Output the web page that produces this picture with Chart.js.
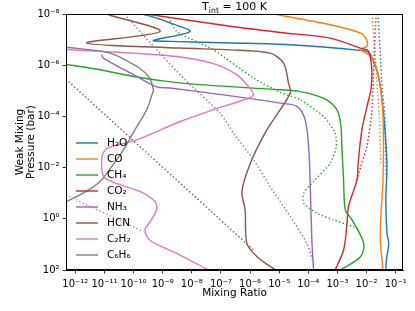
<!DOCTYPE html>
<html>
<head>
<meta charset="utf-8">
<script src="https://cdn.jsdelivr.net/npm/chart.js@4.4.0/dist/chart.umd.min.js"></script>
<style>
  html, body { margin: 0; padding: 0; background: #fff; }
  canvas { display: block; }
</style>
</head>
<body>
<canvas id="profileChart" width="415" height="311"></canvas>
<script>
// All values are log10 — mixing ratio (x) and pressure in bar (y)

// solid lines
const h2oLogP   = [-8.0, -7.80, -7.65, -7.32, -6.97, -6.93, -6.87, -6.80, -6.58, -6.50, -6.15, -5.56, -4.65, -3.35, -2.04, -0.74, 0.57, 0.96, 1.61, 2.0];
const h2oLogMix = [-9.70, -9.09, -8.75, -8.06, -9.32, -8.75, -6.57, -4.62, -2.22, -1.93, -1.76, -1.59, -1.47, -1.36, -1.30, -1.34, -1.30, -1.24, -1.32, -1.34];

const coLogP   = [-8.0, -7.58, -7.26, -6.97, -6.74, -6.61, -6.37, -5.82, -4.65, -3.08, -1.39, -0.09, 0.83, 1.61, 2.0];
const coLogMix = [-5.20, -3.25, -2.22, -1.99, -1.99, -2.22, -1.88, -1.65, -1.47, -1.42, -1.44, -1.51, -1.53, -1.47, -1.44];

const ch4LogP   = [-6.06, -5.82, -5.56, -5.37, -5.24, -5.04, -4.97, -4.71, -4.26, -3.61, -2.82, -1.52, -0.35, 0.04, 0.96, 1.48, 2.0];
const ch4LogMix = [-12.5, -11.15, -10.01, -8.86, -7.72, -4.97, -4.28, -3.48, -3.02, -2.88, -2.85, -2.79, -2.73, -2.50, -2.10, -2.21, -2.90];

const co2LogP   = [-8.0, -7.52, -7.28, -7.06, -6.67, -6.54, -5.82, -5.04, -4.65, -3.48, -2.17, -1.52, -0.48, 0.30, 1.22, 2.0];
const co2LogMix = [-9.55, -6.68, -4.97, -3.25, -2.22, -1.93, -1.82, -1.85, -1.93, -2.16, -2.29, -2.33, -2.62, -2.68, -2.79, -3.08];

const nh3LogP   = [-6.41, -6.28, -5.56, -5.15, -5.11, -4.84, -4.52, -4.39, -3.87, -2.82, -1.52, 0.83, 2.0];
const nh3LogMix = [-11.10, -11.04, -9.89, -9.21, -8.75, -6.91, -4.97, -4.39, -4.11, -3.99, -3.94, -3.88, -3.82];

const hcnLogP   = [-7.97, -7.32, -6.87, -6.67, -6.60, -6.47, -6.08, -5.30, -4.91, -3.48, -2.17, -1.06, -0.35, 0.96, 1.48, 2.0];
const hcnLogMix = [-10.86, -9.09, -11.61, -8.41, -6.68, -5.31, -4.85, -4.68, -4.62, -5.42, -5.99, -6.28, -6.17, -6.11, -5.76, -5.13];

const c2h2LogP   = [-6.62, -6.47, -6.32, -6.06, -5.63, -5.17, -4.87, -4.71, -4.26, -3.80, -3.08, -2.80, -2.59, -2.17, -1.68, -1.45, -1.06, -0.67, -0.35, 0.11, 0.44, 0.85, 1.35, 2.0];
const c2h2LogMix = [-12.4, -10.01, -8.40, -7.26, -6.46, -6.06, -5.88, -6.06, -7.26, -8.40, -9.89, -10.81, -11.04, -11.10, -11.04, -10.75, -9.77, -9.26, -9.21, -9.43, -9.61, -9.43, -8.52, -7.43];

const c6h6LogP   = [-6.72, -6.47, -5.95, -5.56, -5.04, -4.84, -4.26, -3.48, -2.69, -2.04, -1.46, -1.00, -0.67, -0.63];
const c6h6LogMix = [-12.45, -10.81, -9.89, -9.49, -9.32, -9.37, -9.55, -9.95, -10.35, -10.75, -11.15, -11.73, -12.32, -12.47];

// dotted lines
const h2oDotLogP   = [-8.0, -6.47, -5.04, -4.13, -1.52];
const h2oDotLogMix = [-1.61, -1.53, -1.46, -1.38, -1.32];
const coDotLogP    = [-8.0, -6.47, -5.04, -4.13, -2.17];
const coDotLogMix  = [-1.82, -1.71, -1.63, -1.57, -1.51];
const ch4DotLogP   = [-8.0, -7.32, -6.60, -5.50, -4.94, -4.65, -4.00, -3.35, -2.82, -2.17, -1.46, -1.00, -0.61, -0.22, 0.04, 0.31, 0.44];
const ch4DotLogMix = [-8.86, -8.52, -7.26, -5.88, -4.97, -4.28, -3.48, -3.08, -3.04, -3.25, -3.82, -4.16, -4.16, -3.71, -3.14, -2.45, -2.22];
const co2DotLogP   = [-8.0, -6.47, -5.04, -4.13, -2.82, -2.04, -1.52];
const co2DotLogMix = [-1.67, -1.74, -1.78, -1.82, -1.99, -2.20, -2.33];
const nh3DotLogP   = [-8.0, -6.74, -5.43, -4.13, -3.35, -2.30, -1.26, -0.09, 0.96, 1.74];
const nh3DotLogMix = [-10.32, -9.32, -8.23, -7.03, -6.57, -5.88, -5.31, -4.62, -4.05, -3.82];
const hcnDotLogP   = [-5.45, 1.25];
const hcnDotLogMix = [-12.32, -5.85];
const c2h2DotLogP   = [-0.93, 0.50];
const c2h2DotLogMix = [-12.32, -9.66];
const c6h6DotLogP   = [-8.0, 2.0];
const c6h6DotLogMix = [-0.76, -0.76];

const speciesNames  = ["H₂O", "CO", "CH₄", "CO₂", "NH₃", "HCN", "C₂H₂", "C₆H₆"];
const speciesColors = ["#1f77b4", "#ff7f0e", "#2ca02c", "#d62728", "#9467bd", "#8c564b", "#e377c2", "#7f7f7f"];

const xTickExps = [-12, -11, -10, -9, -8, -7, -6, -5, -4, -3, -2, -1];
const yTickExps = [-8, -6, -4, -2, 0, 2];

const FONT = '"DejaVu Sans", "Liberation Sans", sans-serif';

function toPoints(logMix, logP) {
  return logMix.map((m, i) => ({ x: Math.pow(10, m), y: Math.pow(10, logP[i]) }));
}

function lineSet(label, color, logMix, logP, dotted) {
  return {
    label: label,
    data: toPoints(logMix, logP),
    borderColor: color,
    borderWidth: 1.4,
    borderDash: dotted ? [1.4, 2.3] : [],
    pointRadius: 0,
    showLine: true,
    fill: false,
    tension: dotted ? 0.2 : 0.3
  };
}

const solidSets = [
  [h2oLogMix, h2oLogP], [coLogMix, coLogP], [ch4LogMix, ch4LogP], [co2LogMix, co2LogP],
  [nh3LogMix, nh3LogP], [hcnLogMix, hcnLogP], [c2h2LogMix, c2h2LogP], [c6h6LogMix, c6h6LogP]
];
const dottedSets = [
  [h2oDotLogMix, h2oDotLogP], [coDotLogMix, coDotLogP], [ch4DotLogMix, ch4DotLogP], [co2DotLogMix, co2DotLogP],
  [nh3DotLogMix, nh3DotLogP], [hcnDotLogMix, hcnDotLogP], [c2h2DotLogMix, c2h2DotLogP], [c6h6DotLogMix, c6h6DotLogP]
];

const datasets = [];
solidSets.forEach((s, i) => datasets.push(lineSet(speciesNames[i], speciesColors[i], s[0], s[1], false)));
dottedSets.forEach((s, i) => datasets.push(lineSet(speciesNames[i] + " (dotted)", speciesColors[i], s[0], s[1], true)));
// Chart.js paints the first dataset last, so flip to keep matplotlib-like stacking
datasets.reverse();

const supMap = { "-": "⁻", "0": "⁰", "1": "¹", "2": "²", "3": "³", "4": "⁴", "5": "⁵", "6": "⁶", "7": "⁷", "8": "⁸", "9": "⁹" };
function powLabel(v) {
  const e = Math.round(Math.log10(v));
  return "10" + String(e).split("").map(ch => supMap[ch]).join("");
}

// frame, title and legend drawn by hand
const framePlugin = {
  id: "frame",
  afterDraw(chart) {
    const { ctx, chartArea: a } = chart;
    ctx.save();
    ctx.strokeStyle = "#000";
    ctx.lineWidth = 1;
    ctx.strokeRect(Math.round(a.left) + 0.5, Math.round(a.top) + 0.5, Math.round(a.right - a.left) - 1, Math.round(a.bottom - a.top) - 1);

    // title: T_int = 100 K
    ctx.fillStyle = "#000";
    ctx.textBaseline = "alphabetic";
    const big = "11px " + FONT, small = "7.8px " + FONT;
    ctx.font = big; const wT = ctx.measureText("T").width;
    ctx.font = small; const wSub = ctx.measureText("int").width;
    ctx.font = big; const wRest = ctx.measureText(" = 100 K").width;
    let x = (a.left + a.right) / 2 - (wT + wSub + wRest) / 2;
    const base = 10;
    ctx.font = big; ctx.fillText("T", x, base); x += wT;
    ctx.font = small; ctx.fillText("int", x, base + 2.5); x += wSub;
    ctx.font = big; ctx.fillText(" = 100 K", x, base);

    // legend
    ctx.font = "10.5px " + FONT;
    ctx.textBaseline = "middle";
    speciesNames.forEach((name, i) => {
      const y = a.top + 129 + i * 16;
      ctx.strokeStyle = speciesColors[i];
      ctx.lineWidth = 1.4;
      ctx.beginPath();
      ctx.moveTo(a.left + 10, y);
      ctx.lineTo(a.left + 32, y);
      ctx.stroke();
      ctx.fillStyle = "#000";
      ctx.fillText(name, a.left + 41, y);
    });
    ctx.restore();
  }
};

const axisCommon = {
  type: "logarithmic",
  grid: { display: true, drawOnChartArea: false, drawTicks: true, tickLength: 3.5, color: "#000", lineWidth: 0.8 },
  border: { display: true, color: "#000", width: 1 },
  ticks: { color: "#000", font: { family: FONT, size: 10 }, padding: 3, callback: v => powLabel(v), autoSkip: false, maxRotation: 0 }
};

new Chart(document.getElementById("profileChart"), {
  type: "scatter",
  data: { datasets: datasets },
  options: {
    responsive: false,
    animation: false,
    layout: { padding: { top: 14, right: 12, bottom: 0, left: 0 } },
    plugins: { legend: { display: false }, tooltip: { enabled: false } },
    scales: {
      x: Object.assign({}, axisCommon, {
        min: Math.pow(10, -12.32),
        max: Math.pow(10, -0.75),
        ticks: Object.assign({}, axisCommon.ticks, { padding: 4.5 }),
        afterBuildTicks: s => { s.ticks = xTickExps.map(e => ({ value: Math.pow(10, e) })); },
        afterFit: s => { s.height = 41; },
        title: { display: true, text: "Mixing Ratio", color: "#000", font: { family: FONT, size: 10.5 }, padding: { top: 0, bottom: 11 } }
      }),
      y: Object.assign({}, axisCommon, {
        reverse: true,
        min: 1e-8,
        max: 1e2,
        afterBuildTicks: s => { s.ticks = yTickExps.map(e => ({ value: Math.pow(10, e) })); },
        afterFit: s => { s.width = 66; },
        title: { display: true, text: ["Weak Mixing", "Pressure (bar)"], color: "#000", font: { family: FONT, size: 10.5, lineHeight: 1.05 }, padding: { top: 15, bottom: 0 } }
      })
    }
  },
  plugins: [framePlugin]
});
</script>
</body>
</html>
